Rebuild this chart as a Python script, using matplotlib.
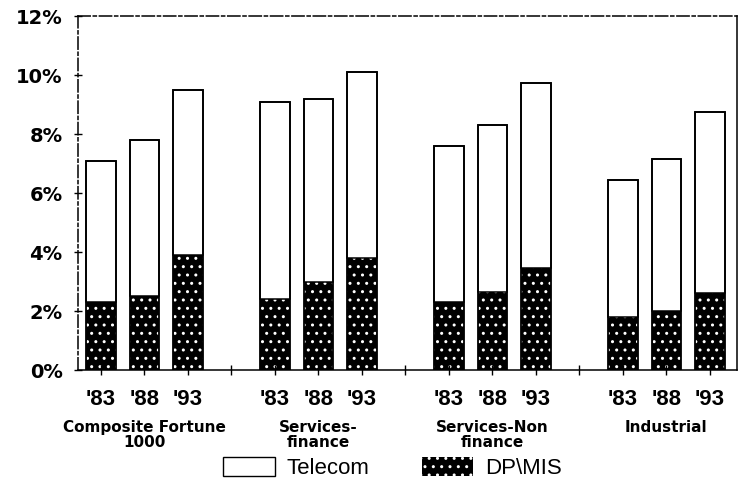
import matplotlib.pyplot as plt
from matplotlib.patches import Patch
from matplotlib.transforms import blended_transform_factory

plt.rcParams['font.family'] = ['Liberation Sans', 'DejaVu Sans']

# data (percent of budget)
groups = ['Composite Fortune\n1000', 'Services-\nfinance',
          'Services-Non\nfinance', 'Industrial']
years = ["'83", "'88", "'93"]
dp_mis = [2.3, 2.5, 3.9,
          2.4, 3.0, 3.8,
          2.3, 2.65, 3.45,
          1.8, 2.0, 2.6]
total = [7.1, 7.8, 9.5,
         9.1, 9.2, 10.1,
         7.6, 8.3, 9.75,
         6.45, 7.15, 8.75]
telecom = [t - d for t, d in zip(total, dp_mis)]

# slot positions: 3 bars then one empty slot per group
pos = [g * 4 + i for g in range(len(groups)) for i in range(len(years))]
width = 0.68

fig = plt.figure(figsize=(7.48, 4.84), dpi=100)
ax = fig.add_axes([0.104, 0.2355, 0.881, 0.731])

ax.bar(pos, dp_mis, width, color='black', edgecolor='white',
       hatch='..', linewidth=0)
ax.bar(pos, telecom, width, bottom=dp_mis, color='white',
       edgecolor='black', linewidth=1.1)
ax.bar(pos, total, width, fill=False, edgecolor='black', linewidth=1.3)

ax.set_xlim(-0.53, 14.62)
ax.set_ylim(0, 12)
ax.set_yticks(range(0, 13, 2))
ax.set_yticklabels([f'{v}%' for v in range(0, 13, 2)], fontsize=14,
                   fontweight='bold', family='DejaVu Sans')
ax.set_xticks(range(15))
xlabels = []
for i in range(15):
    xlabels.append(years[i % 4] if i % 4 < 3 else '')
ax.set_xticklabels(xlabels, fontsize=16, fontweight='bold')
ax.tick_params(axis='x', direction='inout', length=7, width=1, pad=10)
ax.tick_params(axis='y', direction='inout', length=6, width=1, pad=8)

for s in ax.spines.values():
    s.set_linewidth(1.1)
ax.spines['top'].set_linestyle((0, (8, 2, 2, 2)))
ax.spines['left'].set_linestyle((0, (8, 2, 2, 2)))

trans = blended_transform_factory(ax.transData, ax.transAxes)
for g, name in enumerate(groups):
    ax.text(g * 4 + 1, -0.142, name, transform=trans, ha='center',
            va='top', fontsize=11, fontweight='bold', linespacing=1.0,
            family='DejaVu Sans')

handles = [Patch(facecolor='white', edgecolor='black', linewidth=1),
           Patch(facecolor='black', edgecolor='white', hatch='..',
                 linewidth=0)]
fig.legend(handles, ['Telecom', 'DP\\MIS'], loc='center',
           bbox_to_anchor=(0.525, 0.033), ncol=2, frameon=False,
           fontsize=16, handlelength=2.3, handleheight=0.9,
           columnspacing=2.35, handletextpad=0.55)

fig.savefig('out.png', dpi=100)
